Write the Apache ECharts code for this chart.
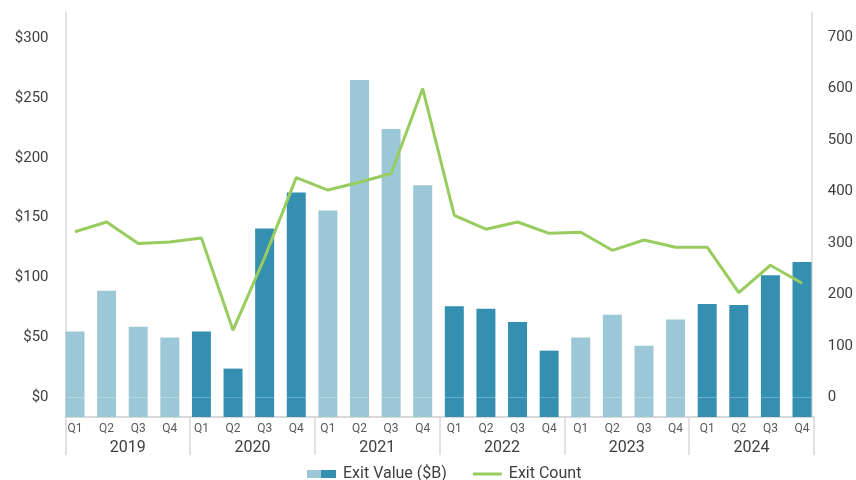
<!DOCTYPE html>
<html>
<head>
<meta charset="utf-8">
<script src="https://cdn.jsdelivr.net/npm/echarts@6/dist/echarts.min.js"></script>
<style>
html,body{margin:0;padding:0;background:#fff;}
#chart{width:856px;height:480px;}
</style>
</head>
<body>
<div id="chart"></div>
<script>
// ---- data ----
const years = ['2019', '2020', '2021', '2022', '2023', '2024'];
const quarterNames = ['Q1', 'Q2', 'Q3', 'Q4'];
const exitValue = [55, 89, 59, 50, 55, 24, 141, 171, 156, 265, 224, 177, 76, 74, 63, 39, 50, 69, 43, 65, 78, 77, 102, 113];
const exitCount = [322, 341, 299, 302, 310, 131, 272, 427, 403, 418, 435, 600, 354, 327, 341, 319, 321, 286, 306, 292, 292, 204, 257, 222];
const valueTicks = [0, 50, 100, 150, 200, 250, 300];
const countTicks = [0, 100, 200, 300, 400, 500, 600, 700];

// ---- styling ----
const LIGHT = '#9bc7d6';
const DARK = '#348fb0';
const GREEN = '#99cc5e';
const AXIS = '#d9d9d9';
const FONT = 'Roboto';
const LEFT_MIN = -16.4, LEFT_MAX = 321.7;
const RIGHT_MIN = -37.5, RIGHT_MAX = 748.5;

const categories = [];
years.forEach(y => quarterNames.forEach(q => categories.push(q)));
const colorOf = i => (Math.floor(i / 4) % 2 === 0 ? LIGHT : DARK);

const chart = echarts.init(document.getElementById('chart'), null, {renderer: 'canvas'});
chart.setOption({
  backgroundColor: '#ffffff',
  animation: false,
  textStyle: {fontFamily: FONT},
  grid: [
    {left: 75, right: 53, top: 12, bottom: 63},
    {left: 65.3, right: 42, top: 12, bottom: 63}
  ],
  legend: {
    left: 302, top: 461,
    itemWidth: 29, itemHeight: 8, itemGap: 26,
    symbolKeepAspect: true,
    textStyle: {fontFamily: FONT, fontSize: 16, color: '#404040', padding: [0, 0, 0, 2]},
    data: [
      {name: 'Exit Value ($B)', icon: 'rect', itemStyle: {color: new echarts.graphic.LinearGradient(0, 0, 1, 0, [
        {offset: 0, color: LIGHT}, {offset: 0.5, color: LIGHT}, {offset: 0.5, color: DARK}, {offset: 1, color: DARK}])}},
      {name: 'Exit Count', icon: 'path://M0,0h29v3h-29z', itemStyle: {color: GREEN, borderWidth: 0}}
    ]
  },
  xAxis: [
    {
      type: 'category', gridIndex: 0, data: categories, boundaryGap: false,
      axisLine: {show: false}, axisTick: {show: false},
      axisLabel: {interval: 0, margin: 6, fontSize: 12, color: '#595959', fontFamily: FONT}
    },
    {
      type: 'category', gridIndex: 1, data: years, boundaryGap: true, position: 'bottom',
      axisLine: {show: true, lineStyle: {color: AXIS, width: 2}},
      axisTick: {show: true, interval: 0, length: 38, lineStyle: {color: AXIS, width: 1.5}},
      axisLabel: {interval: 0, margin: 23, fontSize: 16, color: '#404040', fontFamily: FONT}
    }
  ],
  yAxis: [
    {
      type: 'value', gridIndex: 0, position: 'left', offset: 9.5,
      min: LEFT_MIN, max: LEFT_MAX, splitNumber: 6, minInterval: valueTicks[1] - valueTicks[0], maxInterval: valueTicks[1] - valueTicks[0],
      axisLine: {show: true, lineStyle: {color: AXIS, width: 1.5}},
      axisTick: {show: false}, splitLine: {show: false},
      axisLabel: {
        margin: 17, fontSize: 15, color: '#404040', fontFamily: FONT,
        showMinLabel: false, showMaxLabel: false,
        formatter: v => (valueTicks.indexOf(v) >= 0 ? '$' + v : '')
      }
    },
    {
      type: 'value', gridIndex: 0, position: 'right', offset: 9.7,
      min: RIGHT_MIN, max: RIGHT_MAX, splitNumber: 8, minInterval: countTicks[1] - countTicks[0], maxInterval: countTicks[1] - countTicks[0],
      axisLine: {show: true, lineStyle: {color: AXIS, width: 1.5}},
      axisTick: {show: false}, splitLine: {show: false},
      axisLabel: {
        margin: 16, fontSize: 15, color: '#404040', fontFamily: FONT,
        showMinLabel: false, showMaxLabel: false,
        formatter: v => (countTicks.indexOf(v) >= 0 ? String(v) : '')
      }
    },
    {type: 'value', gridIndex: 1, show: false}
  ],
  series: [
    {
      name: 'base', type: 'bar', xAxisIndex: 0, yAxisIndex: 0, stack: 'v', barWidth: 19, clip: false,
      silent: true,
      data: exitValue.map((v, i) => ({value: LEFT_MIN, itemStyle: {color: colorOf(i)}}))
    },
    {
      name: 'Exit Value ($B)', type: 'bar', xAxisIndex: 0, yAxisIndex: 0, stack: 'v', barWidth: 19, clip: false,
      itemStyle: {color: DARK},
      data: exitValue.map((v, i) => ({value: v, itemStyle: {color: colorOf(i)}}))
    },
    {
      name: 'Exit Count', type: 'line', xAxisIndex: 0, yAxisIndex: 1, clip: false,
      symbol: 'none', showSymbol: false,
      lineStyle: {color: GREEN, width: 3}, itemStyle: {color: GREEN},
      data: exitCount
    }
  ]
});
</script>
</body>
</html>
